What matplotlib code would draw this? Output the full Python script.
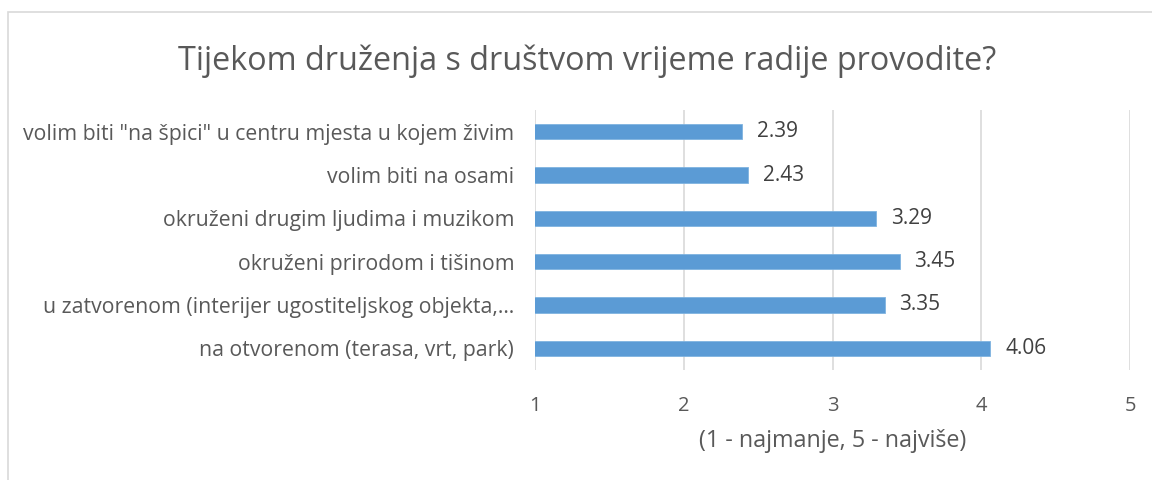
import numpy as np
import matplotlib
matplotlib.use("Agg")
from matplotlib import pyplot as plt
from matplotlib.patches import Rectangle

plt.rcParams['font.family'] = ['Open Sans', 'DejaVu Sans']

# data (bottom to top, as Excel draws it)
categories = [
    "na otvorenom (terasa, vrt, park)",
    "u zatvorenom (interijer ugostiteljskog objekta,…",
    "okruženi prirodom i tišinom",
    "okruženi drugim ljudima i muzikom",
    "volim biti na osami",
    "volim biti \"na špici\" u centru mjesta u kojem živim",
]
values = [4.06, 3.35, 3.45, 3.29, 2.43, 2.39]
xticks = [1, 2, 3, 4, 5]

title = "Tijekom druženja s društvom vrijeme radije provodite?"
xlabel = "(1 - najmanje, 5 - najviše)"

bar_color = "#5B9BD5"
grid_color = "#D9D9D9"
text_color = "#595959"

fig = plt.figure(figsize=(11.52, 4.8), dpi=100)
ax = fig.add_axes([0.4644, 0.2292, 0.5166, 0.5416])

y = np.arange(len(categories))
ax.barh(y, values, height=0.35, color=bar_color, edgecolor="#7FB3E0", linewidth=0.6, zorder=3)

for yi, v in zip(y, values):
    ax.text(v + 0.1, yi, f"{v:.2f}", va="center", ha="left", fontsize=15, color="#404040")

ax.set_xlim(1, 5)
ax.set_ylim(-0.5, len(categories) - 0.5)
ax.set_xticks(xticks)
ax.set_yticks(y)
ax.set_yticklabels(categories, fontsize=15.3)
ax.tick_params(axis="both", length=0, labelsize=14.5, colors=text_color)
ax.tick_params(axis="y", labelsize=15.3, pad=15)
ax.tick_params(axis="x", pad=19)
ax.xaxis.grid(True, color=grid_color, linewidth=1.2, zorder=0)
for s in ax.spines.values():
    s.set_visible(False)

ax.set_xlabel(xlabel, fontsize=16.8, color=text_color, labelpad=9)

fig.text(0.51, 0.872, title, ha="center", va="center", fontsize=23.3, color=text_color)

# chart border
fig.patches.append(Rectangle((8 / 1152, -0.01), 1.0, 1 - 12 / 480 + 0.01,
                             transform=fig.transFigure, fill=False,
                             edgecolor=grid_color, linewidth=1.2))

fig.savefig("out.png", dpi=100)
